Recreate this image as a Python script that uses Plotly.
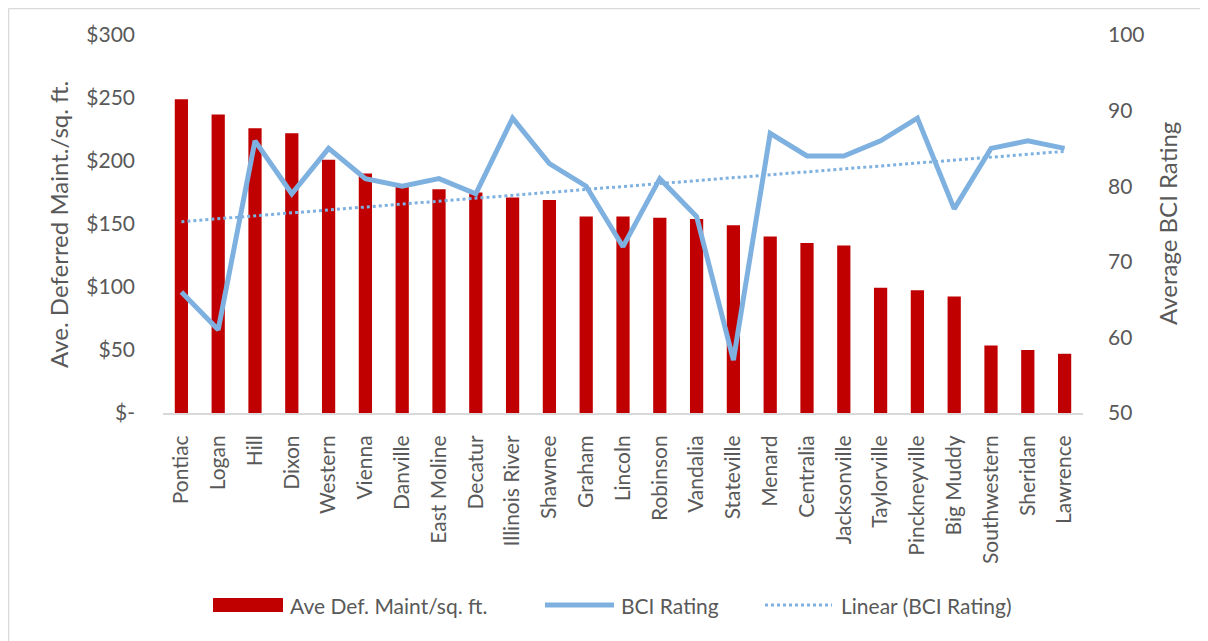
import numpy as np
import plotly.graph_objects as go

categories = ["Pontiac", "Logan", "Hill", "Dixon", "Western", "Vienna", "Danville",
              "East Moline", "Decatur", "Illinois River", "Shawnee", "Graham", "Lincoln",
              "Robinson", "Vandalia", "Stateville", "Menard", "Centralia", "Jacksonville",
              "Taylorville", "Pinckneyville", "Big Muddy", "Southwestern", "Sheridan", "Lawrence"]
def_maint = [249, 237, 226, 222, 201, 190, 180, 177.5, 175, 171, 169, 156, 156,
             155, 154, 149, 140, 135, 133, 99.5, 97.5, 92.5, 53.5, 50, 47]
bci = [66, 61, 86, 79, 85, 81, 80, 81, 79, 89, 83, 80, 72,
       81, 76, 57, 87, 84, 84, 86, 89, 77, 85, 86, 85]
left_ticks = [0, 50, 100, 150, 200, 250, 300]
left_ticktext = ["$-", "$50", "$100", "$150", "$200", "$250", "$300"]
right_ticks = [50, 60, 70, 80, 90, 100]

# Linear trendline (least squares) of BCI rating
idx = np.arange(1, len(bci) + 1)
slope, intercept = np.polyfit(idx, bci, 1)
trend = slope * idx + intercept

RED = "#C00000"
BLUE = "#7EB1DF"
TXT = "#595959"
FONT = "Lato"

fig = go.Figure()
fig.add_trace(go.Bar(x=categories, y=def_maint, marker=dict(color=RED, line=dict(width=0)),
                     name="Ave Def. Maint/sq. ft.", yaxis="y", showlegend=False))
fig.add_trace(go.Scatter(x=categories, y=bci, mode="lines", line=dict(color=BLUE, width=5),
                         name="BCI Rating", yaxis="y2", showlegend=False))
fig.add_trace(go.Scatter(x=categories, y=trend, mode="lines",
                         line=dict(color=BLUE, width=3, dash="dot"),
                         name="Linear (BCI Rating)", yaxis="y2", showlegend=False))

# page pixel -> paper coordinate (plot area spans page x 163..1083, y 35..413)
def px_x(p):
    return (p - 163) / 920.0

def px_y(p):
    return (413 - p) / 378.0

shapes = [
    # outer border (top and left)
    dict(type="line", xref="paper", yref="paper", x0=px_x(8.5), x1=px_x(1208), y0=px_y(8.5), y1=px_y(8.5),
         line=dict(color="#D9D9D9", width=1.5)),
    dict(type="line", xref="paper", yref="paper", x0=px_x(8.5), x1=px_x(8.5), y0=px_y(8.5), y1=px_y(641),
         line=dict(color="#D9D9D9", width=1.5)),
    # legend keys
    dict(type="rect", xref="paper", yref="paper", x0=px_x(213), x1=px_x(283), y0=px_y(598), y1=px_y(612),
         fillcolor=RED, line=dict(width=0)),
    dict(type="line", xref="paper", yref="paper", x0=px_x(545), x1=px_x(614), y0=px_y(605), y1=px_y(605),
         line=dict(color=BLUE, width=5)),
    dict(type="line", xref="paper", yref="paper", x0=px_x(765), x1=px_x(832), y0=px_y(605), y1=px_y(605),
         line=dict(color=BLUE, width=3, dash="dot")),
]
annotations = [
    dict(text="Ave Def. Maint/sq. ft.", xref="paper", yref="paper", x=px_x(288), y=px_y(605),
         xanchor="left", yanchor="middle", showarrow=False, font=dict(family=FONT, size=21, color=TXT)),
    dict(text="BCI Rating", xref="paper", yref="paper", x=px_x(619), y=px_y(605),
         xanchor="left", yanchor="middle", showarrow=False, font=dict(family=FONT, size=21, color=TXT)),
    dict(text="Linear (BCI Rating)", xref="paper", yref="paper", x=px_x(839), y=px_y(605),
         xanchor="left", yanchor="middle", showarrow=False, font=dict(family=FONT, size=21, color=TXT)),
    dict(text="Ave. Deferred Maint./sq. ft.", xref="paper", yref="paper", x=px_x(58), y=px_y(225),
         xanchor="center", yanchor="middle", textangle=-90, showarrow=False,
         font=dict(family=FONT, size=24, color=TXT)),
    dict(text="Average BCI Rating", xref="paper", yref="paper", x=px_x(1167), y=px_y(224),
         xanchor="center", yanchor="middle", textangle=-90, showarrow=False,
         font=dict(family=FONT, size=24, color=TXT)),
]

fig.update_layout(
    width=1200, height=633,
    margin=dict(l=155, r=125, t=27, b=228, pad=0),
    paper_bgcolor="white", plot_bgcolor="white",
    bargap=0.64,
    showlegend=False,
    font=dict(family=FONT, color=TXT),
    xaxis=dict(type="category", tickangle=-90, tickfont=dict(family=FONT, size=21, color=TXT),
               showgrid=False, showline=True, linecolor="#D9D9D9", linewidth=2,
               ticks="", ticklabelstandoff=12, fixedrange=True),
    yaxis=dict(range=[0, 300], tickvals=left_ticks, ticktext=left_ticktext, showgrid=False,
               zeroline=False, showline=False, ticks="",
               tickfont=dict(family=FONT, size=21, color=TXT), ticklabelstandoff=27),
    yaxis2=dict(range=[50, 100], tickvals=right_ticks, overlaying="y", side="right",
                showgrid=False, zeroline=False, showline=False, ticks="",
                tickfont=dict(family=FONT, size=21, color=TXT), ticklabelstandoff=24),
    shapes=shapes,
    annotations=annotations,
)

fig.write_html("out.html")
